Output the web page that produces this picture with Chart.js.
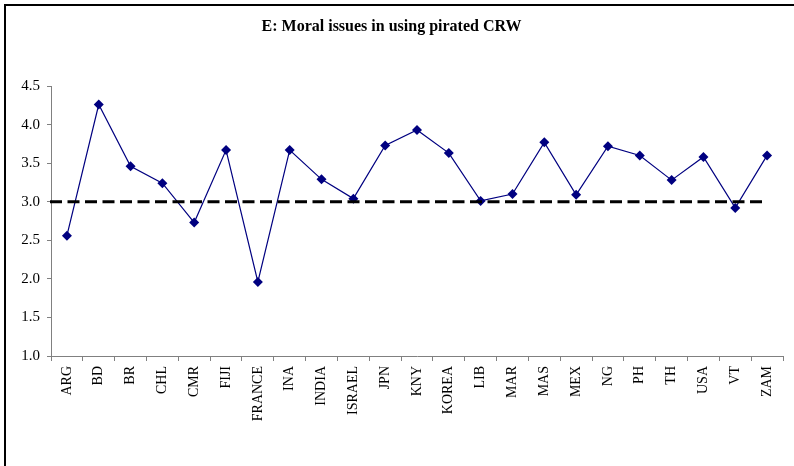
<!DOCTYPE html>
<html>
<head>
<meta charset="utf-8">
<script src="https://cdn.jsdelivr.net/npm/chart.js@4"></script>
<style>
  html, body { margin: 0; padding: 0; background: #fff; }
  canvas { display: block; }
</style>
</head>
<body>
<canvas id="moralChart" width="794" height="466"></canvas>
<script>
const countries = ['ARG', 'BD', 'BR', 'CHL', 'CMR', 'FIJI', 'FRANCE', 'INA', 'INDIA', 'ISRAEL', 'JPN',
                   'KNY', 'KOREA', 'LIB', 'MAR', 'MAS', 'MEX', 'NG', 'PH', 'TH', 'USA', 'VT', 'ZAM'];
const moralScores = [2.56, 4.26, 3.46, 3.24, 2.73, 3.67, 1.96, 3.67, 3.29, 3.04, 3.73,
                     3.93, 3.63, 3.01, 3.10, 3.77, 3.09, 3.72, 3.60, 3.28, 3.58, 2.92, 3.60];
const refValue = 3.0;
const yTicks = [1.0, 1.5, 2.0, 2.5, 3.0, 3.5, 4.0, 4.5];

// white background + frame lines on top and left
const framePlugin = {
    id: 'frame',
    beforeDraw(chart) {
        const ctx = chart.ctx;
        ctx.save();
        ctx.fillStyle = '#fff';
        ctx.fillRect(0, 0, chart.width, chart.height);
        ctx.strokeStyle = '#000';
        ctx.lineWidth = 2;
        ctx.beginPath();
        ctx.moveTo(5, chart.height);
        ctx.lineTo(5, 5);
        ctx.lineTo(chart.width, 5);
        ctx.stroke();
        ctx.restore();
    }
};

// dashed reference line at 3.0
const refLinePlugin = {
    id: 'refLine',
    afterDatasetsDraw(chart) {
        const ctx = chart.ctx;
        const x = chart.scales.x, y = chart.scales.y;
        const py = y.getPixelForValue(refValue);
        ctx.save();
        ctx.strokeStyle = '#000';
        ctx.lineWidth = 3;
        ctx.setLineDash([12, 5.5]);
        ctx.beginPath();
        ctx.moveTo(chart.chartArea.left - 1, py);
        ctx.lineTo(x.getPixelForValue(countries.length - 1) - 4, py);
        ctx.stroke();
        ctx.restore();
    }
};

const serif = 'Liberation Serif, Times New Roman, serif';

new Chart(document.getElementById('moralChart'), {
    type: 'line',
    data: {
        labels: countries,
        datasets: [{
            data: moralScores,
            borderColor: '#000080',
            borderWidth: 1.2,
            pointStyle: 'rectRot',
            pointRadius: 5,
            pointBackgroundColor: '#000080',
            pointBorderColor: '#000080',
            pointBorderWidth: 0,
            tension: 0
        }]
    },
    options: {
        responsive: false,
        animation: false,
        layout: { padding: { left: 0, right: 11, top: 0, bottom: 0 } },
        plugins: {
            legend: { display: false },
            tooltip: { enabled: false },
            title: {
                display: true,
                text: 'E: Moral issues in using pirated CRW',
                color: '#000',
                font: { family: serif, size: 16, weight: 'bold' },
                padding: { top: 17.4, bottom: 49.4 }
            }
        },
        scales: {
            x: {
                type: 'category',
                offset: true,
                grid: { display: true, drawOnChartArea: false, offset: true, tickLength: 5, color: '#808080' },
                border: { color: '#808080', width: 1 },
                ticks: {
                    color: '#000',
                    font: { family: serif, size: 14 },
                    minRotation: 90,
                    maxRotation: 90,
                    autoSkip: false,
                    padding: 5
                },
                afterFit(scale) { scale.height = 110; }
            },
            y: {
                min: 1,
                max: 4.5,
                afterBuildTicks(scale) { scale.ticks = yTicks.map(v => ({ value: v })); },
                grid: { display: true, drawOnChartArea: false, tickLength: 4, color: '#808080' },
                border: { color: '#808080', width: 1 },
                ticks: {
                    color: '#000',
                    font: { family: serif, size: 15 },
                    padding: 7,
                    callback: v => Number(v).toFixed(1)
                },
                afterFit(scale) { scale.width = 51; }
            }
        }
    },
    plugins: [framePlugin, refLinePlugin]
});
</script>
</body>
</html>
